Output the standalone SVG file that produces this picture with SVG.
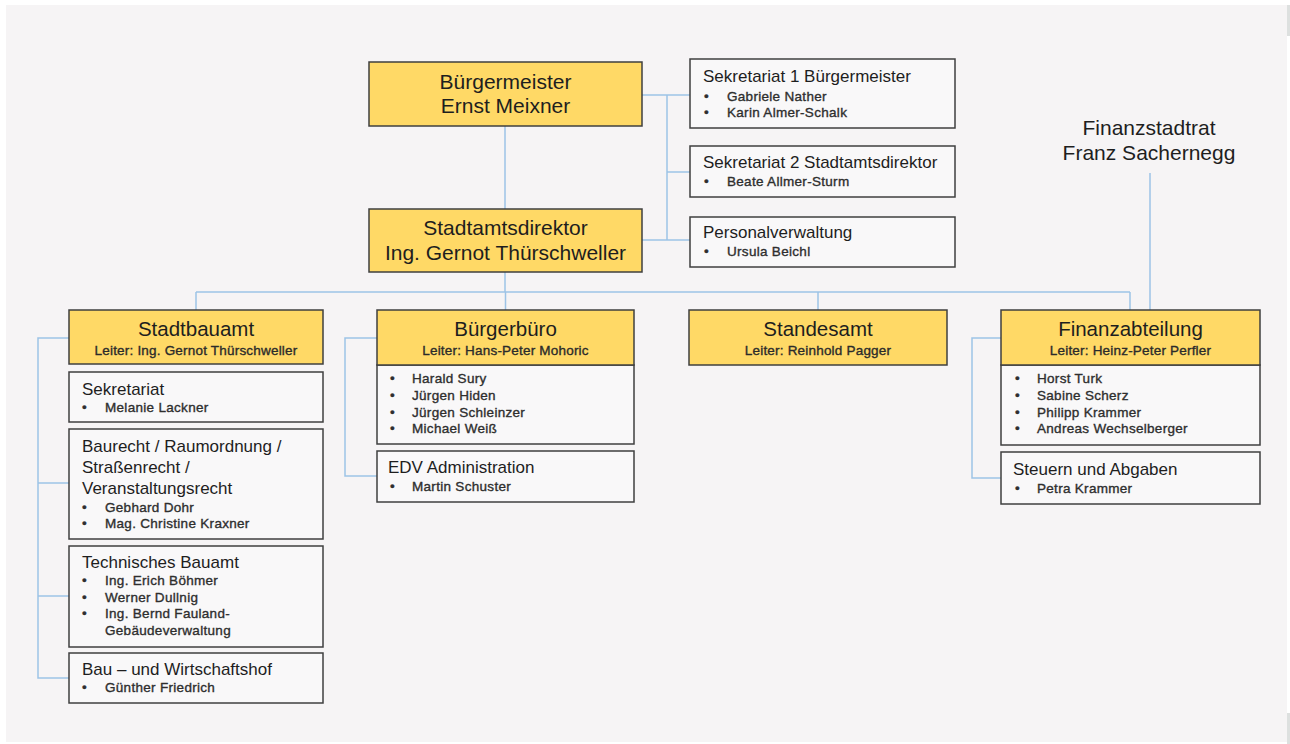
<svg xmlns="http://www.w3.org/2000/svg" width="1290" height="744" viewBox="0 0 1290 744">
<style>
text{font-family:"Liberation Sans",Arial,sans-serif;fill:#1e1e1e}
.y{fill:#ffd966;stroke:#3f3f3f;stroke-width:1.5}
.w{fill:#f9f8f9;stroke:#3f3f3f;stroke-width:1.5}
.c{fill:none;stroke:#9dc3e6;stroke-width:1.5}
.t1{font-size:21px;text-anchor:middle}
.t2{font-size:20.5px;text-anchor:middle}
.lt{font-size:13.5px;letter-spacing:0.2px;text-anchor:middle;fill:#2b2b2b;stroke:#2b2b2b;stroke-width:0.35}
.st{font-size:17px}
.n{font-size:13.5px;letter-spacing:0.3px;fill:#2e2e2e;stroke:#2e2e2e;stroke-width:0.35}
</style>
<rect x="0" y="0" width="1290" height="744" fill="#ffffff"/>
<rect x="6" y="5" width="1281" height="737" fill="#f6f4f5"/>
<rect x="1287" y="5" width="3" height="31" fill="#dde0df"/>
<rect x="1287" y="713" width="3" height="31" fill="#dde0df"/>

<g id="connectors">
<path class="c" d="M505 126V209"/>
<path class="c" d="M642 95H690M667 95V240M667 172H690M642 240H690"/>
<path class="c" d="M505 272V292M196 292H1130M196 292V310M505.5 292V310M818 292V310M1130 292V310"/>
<path class="c" d="M1150 173V310"/>
<path class="c" d="M69 338H38V678H69M38 483H69M38 596H69"/>
<path class="c" d="M377 338H345V476H377"/>
<path class="c" d="M1001 338H972V478H1001"/>
</g>

<g id="buergermeister">
<rect class="y" x="369" y="62" width="273" height="64"/>
<text class="t1" x="505.5" y="89">Bürgermeister</text>
<text class="t1" x="505.5" y="113">Ernst Meixner</text>
</g>

<g id="stadtamtsdirektor">
<rect class="y" x="369" y="209" width="273" height="63"/>
<text class="t1" x="505.5" y="235">Stadtamtsdirektor</text>
<text class="t1" x="505.5" y="260">Ing. Gernot Thürschweller</text>
</g>

<g id="sekretariat1">
<rect class="w" x="690" y="59" width="265" height="69"/>
<text class="st" x="703" y="82">Sekretariat 1 Bürgermeister</text>
<text class="n" x="704" y="101">•</text><text class="n" x="727" y="101">Gabriele Nather</text>
<text class="n" x="704" y="117">•</text><text class="n" x="727" y="117">Karin Almer-Schalk</text>
</g>

<g id="sekretariat2">
<rect class="w" x="690" y="146" width="265" height="51"/>
<text class="st" x="703" y="168">Sekretariat 2 Stadtamtsdirektor</text>
<text class="n" x="704" y="186">•</text><text class="n" x="727" y="186">Beate Allmer-Sturm</text>
</g>

<g id="personalverwaltung">
<rect class="w" x="690" y="217" width="265" height="50"/>
<text class="st" x="703" y="238">Personalverwaltung</text>
<text class="n" x="704" y="256">•</text><text class="n" x="727" y="256">Ursula Beichl</text>
</g>

<g id="finanzstadtrat">
<text class="t1" x="1149" y="135">Finanzstadtrat</text>
<text class="t1" x="1149" y="160">Franz Sachernegg</text>
</g>

<g id="stadtbauamt">
<rect class="y" x="69" y="310" width="254" height="54"/>
<text class="t2" x="196" y="336">Stadtbauamt</text>
<text class="lt" x="196" y="355">Leiter: Ing. Gernot Thürschweller</text>
</g>

<g id="sb-sekretariat">
<rect class="w" x="69" y="372" width="254" height="50"/>
<text class="st" x="82" y="395">Sekretariat</text>
<text class="n" x="82" y="412">•</text><text class="n" x="105" y="412">Melanie Lackner</text>
</g>

<g id="baurecht">
<rect class="w" x="69" y="429" width="254" height="110"/>
<text class="st" x="82" y="452">Baurecht / Raumordnung /</text>
<text class="st" x="82" y="473">Straßenrecht /</text>
<text class="st" x="82" y="494">Veranstaltungsrecht</text>
<text class="n" x="82" y="512">•</text><text class="n" x="105" y="512">Gebhard Dohr</text>
<text class="n" x="82" y="528">•</text><text class="n" x="105" y="528">Mag. Christine Kraxner</text>
</g>

<g id="technisches-bauamt">
<rect class="w" x="69" y="546" width="254" height="101"/>
<text class="st" x="82" y="568">Technisches Bauamt</text>
<text class="n" x="82" y="585">•</text><text class="n" x="105" y="585">Ing. Erich Böhmer</text>
<text class="n" x="82" y="602">•</text><text class="n" x="105" y="602">Werner Dullnig</text>
<text class="n" x="82" y="618">•</text><text class="n" x="105" y="618">Ing. Bernd Fauland-</text>
<text class="n" x="105" y="635">Gebäudeverwaltung</text>
</g>

<g id="wirtschaftshof">
<rect class="w" x="69" y="653" width="254" height="50"/>
<text class="st" x="82" y="675">Bau – und Wirtschaftshof</text>
<text class="n" x="82" y="692">•</text><text class="n" x="105" y="692">Günther Friedrich</text>
</g>

<g id="buergerbuero">
<rect class="w" x="377" y="365" width="257" height="79"/>
<rect class="y" x="377" y="310" width="257" height="55"/>
<text class="t2" x="505.5" y="336">Bürgerbüro</text>
<text class="lt" x="505.5" y="355">Leiter: Hans-Peter Mohoric</text>
<text class="n" x="390" y="383">•</text><text class="n" x="412" y="383">Harald Sury</text>
<text class="n" x="390" y="400">•</text><text class="n" x="412" y="400">Jürgen Hiden</text>
<text class="n" x="390" y="417">•</text><text class="n" x="412" y="417">Jürgen Schleinzer</text>
<text class="n" x="390" y="433">•</text><text class="n" x="412" y="433">Michael Weiß</text>
</g>

<g id="edv">
<rect class="w" x="377" y="451" width="257" height="51"/>
<text class="st" x="388" y="473">EDV Administration</text>
<text class="n" x="390" y="491">•</text><text class="n" x="412" y="491">Martin Schuster</text>
</g>

<g id="standesamt">
<rect class="y" x="689" y="310" width="258" height="55"/>
<text class="t2" x="818" y="336">Standesamt</text>
<text class="lt" x="818" y="355">Leiter: Reinhold Pagger</text>
</g>

<g id="finanzabteilung">
<rect class="w" x="1001" y="365" width="259" height="80"/>
<rect class="y" x="1001" y="310" width="259" height="55"/>
<text class="t2" x="1130.5" y="336">Finanzabteilung</text>
<text class="lt" x="1130.5" y="355">Leiter: Heinz-Peter Perfler</text>
<text class="n" x="1015" y="383">•</text><text class="n" x="1037" y="383">Horst Turk</text>
<text class="n" x="1015" y="400">•</text><text class="n" x="1037" y="400">Sabine Scherz</text>
<text class="n" x="1015" y="417">•</text><text class="n" x="1037" y="417">Philipp Krammer</text>
<text class="n" x="1015" y="433">•</text><text class="n" x="1037" y="433">Andreas Wechselberger</text>
</g>

<g id="steuern">
<rect class="w" x="1001" y="452" width="259" height="52"/>
<text class="st" x="1013" y="475">Steuern und Abgaben</text>
<text class="n" x="1015" y="493">•</text><text class="n" x="1037" y="493">Petra Krammer</text>
</g>
</svg>
